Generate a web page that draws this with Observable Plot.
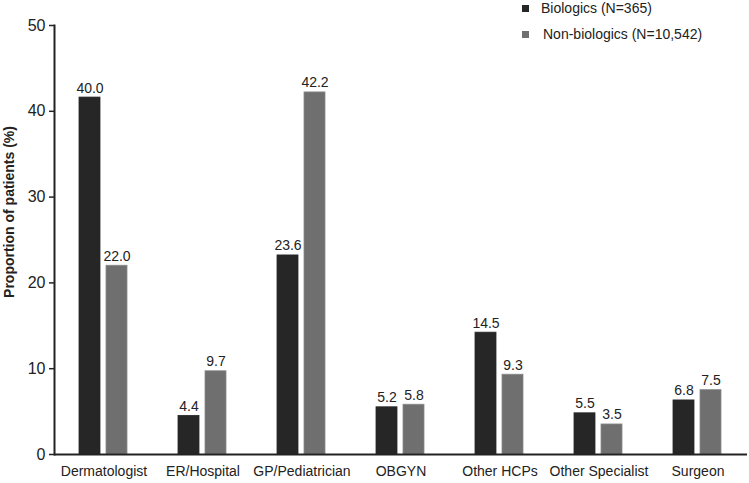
<!DOCTYPE html>
<html>
<head>
<meta charset="utf-8">
<script src="https://cdn.jsdelivr.net/npm/d3@7"></script>
<script src="https://cdn.jsdelivr.net/npm/@observablehq/plot@0.6"></script>
<style>
  html, body { margin: 0; padding: 0; background: #fff; }
  #wrap { position: relative; width: 749px; height: 483px; font-family: "Liberation Sans", Arial, sans-serif; }
  #legend { position: absolute; left: 522px; top: 0; font-size: 14px; color: #222; }
  .row { position: absolute; white-space: nowrap; height: 16px; line-height: 16px; display: flex; align-items: center; }
  .sw { width: 7px; height: 7px; display: inline-block; margin-right: 12px; }
</style>
</head>
<body>
<div id="wrap"><div id="legend"></div></div>
<script>
const categories = ["Dermatologist", "ER/Hospital", "GP/Pediatrician", "OBGYN", "Other HCPs", "Other Specialist", "Surgeon"];
const seriesNames = ["Biologics", "Non-biologics"];
const legendLabels = ["Biologics (N=365)", "Non-biologics (N=10,542)"];
// bar heights as drawn in the picture
const biologicsValues = [41.6, 4.5, 23.2, 5.5, 14.2, 4.8, 6.3];
const nonBiologicsValues = [22.0, 9.7, 42.2, 5.8, 9.3, 3.5, 7.5];
// value labels as printed above the bars
const biologicsLabels = ["40.0", "4.4", "23.6", "5.2", "14.5", "5.5", "6.8"];
const nonBiologicsLabels = ["22.0", "9.7", "42.2", "5.8", "9.3", "3.5", "7.5"];
const yTicks = [0, 10, 20, 30, 40, 50];
const colors = ["#262626", "#6f6f6f"];

const data = [];
categories.forEach((c, i) => {
  data.push({category: c, series: seriesNames[0], value: biologicsValues[i], label: biologicsLabels[i]});
  data.push({category: c, series: seriesNames[1], value: nonBiologicsValues[i], label: nonBiologicsLabels[i]});
});

const chart = Plot.plot({
  width: 749,
  height: 483,
  marginLeft: 53,
  marginRight: 2,
  marginTop: 25,
  marginBottom: 29,
  style: {fontFamily: "'Liberation Sans', Arial, sans-serif", color: "#222", background: "#fff"},
  fx: {domain: categories, padding: 0, label: null},
  x: {domain: seriesNames, paddingInner: 0.214, paddingOuter: 0.877, axis: null},
  y: {domain: [0, 50], label: null},
  color: {domain: seriesNames, range: colors},
  marks: [
    Plot.barY(data, {fx: "category", x: "series", y: "value", fill: "series", stroke: d => d.series === seriesNames[1] ? "#8a8a8a" : "#262626", strokeWidth: 0.8}),
    Plot.text(data, {fx: "category", x: "series", y: "value", text: "label", lineAnchor: "bottom", dy: -5, fontSize: 14, fill: "#222"}),
    Plot.ruleY([0], {stroke: "#222", strokeWidth: 2}),
    Plot.axisFx({anchor: "bottom", tickSize: 0, tickPadding: 12, fontSize: 14, fill: "#222", label: null}),
    Plot.axisY({ticks: yTicks, tickSize: 5, tickPadding: 4, fontSize: 16, fill: "#222", stroke: "#222", strokeWidth: 1.5, label: null}),
    Plot.frame({anchor: "left", facetAnchor: "left", stroke: "#222", strokeWidth: 2}),
    Plot.text(["Proportion of patients (%)"], {frameAnchor: "left", facetAnchor: "left", textAnchor: "middle", rotate: -90, dx: -45, dy: -28, fontWeight: "bold", fontSize: 14, fill: "#222"})
  ]
});
document.getElementById("wrap").prepend(chart);
chart.style.display = "block";

const legend = document.getElementById("legend");
legendLabels.forEach((t, i) => {
  const row = document.createElement("div");
  row.className = "row";
  row.style.top = (0 + i * 26) + "px";
  row.style.left = "0px";
  const sw = document.createElement("span");
  sw.className = "sw";
  sw.style.background = colors[i];
  sw.style.marginRight = (i === 0 ? 12 : 14) + "px";
  row.appendChild(sw);
  const tx = document.createElement("span");
  tx.textContent = t;
  row.appendChild(tx);
  legend.appendChild(row);
});
</script>
</body>
</html>
